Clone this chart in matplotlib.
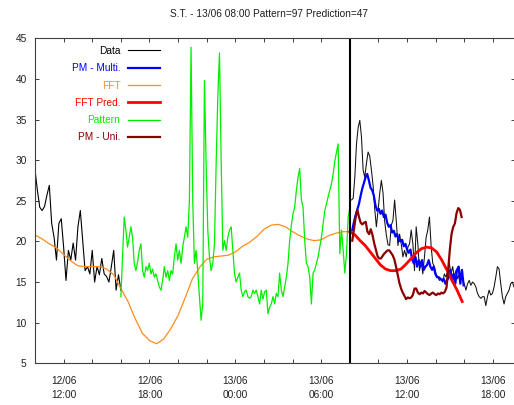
import numpy as np
import matplotlib
matplotlib.use("Agg")
import matplotlib.pyplot as plt

title = "S.T. - 13/06 08:00 Pattern=97 Prediction=47"

# hours counted from 12/06 00:00
data_left = [28.8, 26.3, 24.2, 23.8, 24.3, 25.7, 26.9, 22.2, 20.5, 17.7,
             22.2, 22.8, 19.3, 15.2, 18.9, 17.7, 19.8, 17.7, 21.8, 23.8,
             20.1, 16.4, 16.9, 16.0, 18.9, 15.0, 16.9, 15.9, 17.9, 16.0,
             15.7, 15.0, 16.9, 18.9, 14.0, 15.9, 14.0]
data_left_span = (10.0, 16.0)

data_right = [25.1, 25.1, 25.3, 27.9, 32.0, 34.0, 34.9, 32.9, 28.8, 27.9,
              29.6, 31.0, 30.5, 28.8, 26.9, 24.0, 21.8, 23.8, 25.9, 27.5,
              26.0, 22.5, 20.8, 19.6, 19.5, 22.0, 22.6, 25.1, 22.5, 19.5,
              20.9, 19.7, 18.1, 18.9, 18.1, 19.3, 19.7, 21.4, 19.7, 16.4,
              21.8, 19.7, 16.4, 17.6, 16.0, 18.1, 20.5, 21.4, 23.0, 19.5,
              17.3, 16.9, 16.0, 15.6, 15.2, 15.4, 15.0, 16.0, 15.6, 16.4,
              17.3, 16.0, 16.9, 15.6, 16.4, 15.4, 16.0, 15.6, 15.2, 14.8,
              14.0, 14.8, 15.2, 14.6, 15.0, 14.8, 14.4, 13.6, 13.2, 13.0,
              13.2, 13.2, 12.1, 13.2, 14.0, 13.4, 13.6, 14.4, 15.6, 16.9,
              16.6, 14.8, 13.2, 12.3, 13.2, 13.6, 14.0, 14.8, 15.0, 14.4]
data_right_span = (32.0, 43.47)

fft = [20.8, 20.3, 19.7, 19.2, 18.4, 17.6, 17.0, 16.9, 16.9, 16.9,
       16.6, 15.9, 14.2, 12.6, 10.5, 8.7, 7.8, 7.4, 8.0, 9.3,
       10.9, 13.1, 15.4, 16.8, 17.8, 18.1, 18.2, 18.3, 18.7, 19.4,
       19.9, 20.6, 21.5, 22.0, 22.1, 21.8, 21.2, 20.7, 20.3, 20.1,
       20.2, 20.7, 21.0, 21.2, 21.2]
fft_span = (10.0, 32.0)

pattern = [13.2, 18.1, 23.0, 21.4, 19.3, 20.5, 21.8, 20.5, 17.3, 16.4,
           17.5, 18.9, 19.7, 16.4, 15.6, 16.9, 16.4, 17.3, 16.0, 16.6,
           15.6, 16.0, 15.2, 14.4, 14.0, 15.2, 16.9, 15.6, 16.4, 15.2,
           16.4, 16.0, 18.1, 19.7, 17.7, 18.9, 17.3, 19.3, 20.5, 21.8,
           20.5, 25.0, 43.9, 25.0, 17.3, 18.9, 16.4, 13.2, 10.3, 12.3,
           39.8, 29.6, 21.4, 18.1, 16.4, 17.3, 19.7, 29.6, 37.8, 43.2,
           30.0, 18.9, 20.1, 18.9, 20.5, 21.4, 21.8, 18.9, 16.0,
           15.0, 15.6, 16.1, 14.0, 13.2, 13.8, 14.0, 13.2, 13.0, 13.2,
           14.0, 13.6, 14.0, 13.2, 12.3, 14.0, 12.9, 13.8, 14.0, 11.1,
           11.9, 12.3, 13.2, 12.3, 13.6, 13.2, 16.1, 14.0, 13.2, 14.4,
           15.6, 17.3, 20.1, 22.0, 23.4, 24.2, 26.3, 27.9, 29.0, 25.1,
           24.2, 20.1, 17.3, 16.9, 15.6, 12.3, 16.1, 16.5, 17.3, 18.1,
           19.3, 20.5, 22.1, 23.8, 24.6, 25.5, 26.3, 27.1, 28.3, 29.9,
           31.0, 32.0, 18.5, 21.4, 18.9, 16.1, 18.5, 23.0, 24.2]
pattern_span = (16.0, 32.0)

pm_multi = [21.4, 22.4, 23.2, 23.9, 24.6, 25.6, 26.5, 27.2, 27.9, 28.3,
            27.5, 26.6, 26.3, 25.6, 24.4, 23.8, 24.0, 23.4, 23.8, 23.0,
            23.3, 22.3, 21.8, 22.0, 21.1, 21.3, 20.6, 20.9, 20.2, 20.0,
            20.2, 19.4, 19.7, 19.0, 18.6, 19.0, 17.8, 17.3, 18.1, 16.9,
            17.7, 16.9, 17.7, 16.5, 16.9, 17.1, 17.7, 16.9, 16.5, 16.9,
            16.0, 15.6, 15.6, 15.4, 15.2, 15.4, 14.8, 15.2, 15.6, 16.5,
            15.2, 16.0, 14.8, 16.5, 16.9, 14.8, 16.5, 14.6]
pm_multi_span = (32.17, 39.95)

fft_pred = [21.2, 20.8, 20.1, 19.5, 18.7, 17.9, 17.1, 16.6, 16.4, 16.4,
            16.6, 17.2, 17.9, 18.6, 19.1, 19.3, 19.2, 18.7, 17.7, 16.5,
            15.2, 14.0, 12.6]
fft_pred_span = (32.0, 39.85)

pm_uni = [20.1, 21.5, 23.0, 23.9, 23.0, 22.3, 22.1, 22.3, 22.4, 21.2,
          20.9, 21.5, 20.8, 19.8, 19.0, 18.2, 17.9, 17.9, 18.2, 18.5,
          18.7, 18.9, 18.9, 18.6, 18.3, 17.8, 16.9, 15.9, 14.9, 14.2,
          13.7, 13.3, 12.9, 13.1, 13.0, 13.1, 13.4, 14.2, 14.2, 13.7,
          13.5, 13.7, 13.6, 13.9, 13.7, 13.5, 13.4, 13.6, 13.7, 13.5,
          13.4, 13.6, 13.5, 13.7, 13.6, 13.8, 14.3, 16.5, 19.0, 20.9,
          21.8, 22.2, 23.5, 24.1, 23.9, 23.0]
pm_uni_span = (32.17, 39.81)

split_time = 32.0
x_ticks = list(range(10, 44, 2))
x_label_ticks = [12, 18, 24, 30, 36, 42]
x_labels = ["12/06\n12:00", "12/06\n18:00", "13/06\n00:00",
            "13/06\n06:00", "13/06\n12:00", "13/06\n18:00"]
y_ticks = [5, 10, 15, 20, 25, 30, 35, 40, 45]


def times(span, vals):
    return np.linspace(span[0], span[1], len(vals))


plt.rcParams['font.family'] = ['Liberation Sans', 'DejaVu Sans']
FS = 7.3

fig = plt.figure(figsize=(5.14, 4.05), dpi=100)
ax = fig.add_axes([35 / 514, 1 - 363.3 / 405, 480 / 514, 325 / 405])

l_data, = ax.plot(times(data_left_span, data_left), data_left, color='black', lw=0.8, label='Data')
ax.plot(times(data_right_span, data_right), data_right, color='#111111', lw=0.75)
l_pm, = ax.plot(times(pm_multi_span, pm_multi), pm_multi, color='#0000ff', lw=1.6, label='PM - Multi.')
l_fft, = ax.plot(times(fft_span, fft), fft, color='#ff8c1a', lw=0.9, label='FFT')
l_pred, = ax.plot(times(fft_pred_span, fft_pred), fft_pred, color='#ff0000', lw=2.0, label='FFT Pred.')
l_pat, = ax.plot(times(pattern_span, pattern), pattern, color='#00ee00', lw=0.9, label='Pattern')
l_uni, = ax.plot(times(pm_uni_span, pm_uni), pm_uni, color='#8b0000', lw=1.6, label='PM - Uni.')
ax.axvline(split_time, color='black', lw=1.5)

ax.set_xlim(10, 43.54)
ax.set_ylim(5, 45)
ax.set_xticks(x_ticks)
ax.set_xticklabels([x_labels[x_label_ticks.index(t)] if t in x_label_ticks else "" for t in x_ticks],
                   linespacing=1.5)
ax.set_yticks(y_ticks)
ax.tick_params(direction='in', top=True, right=True, length=3, width=0.6,
               labelsize=FS, colors='#202020')
ax.tick_params(axis='x', pad=9)
ax.tick_params(axis='y', pad=6)
for s in ax.spines.values():
    s.set_color('#404040')
    s.set_linewidth(0.8)

ax.legend(handles=[l_data, l_pm, l_fft, l_pred, l_pat, l_uni],
          loc='upper right', bbox_to_anchor=(160 / 514, 1 - 46 / 405),
          bbox_transform=fig.transFigure, frameon=False, markerfirst=False,
          handlelength=3.2, handletextpad=0.7, labelspacing=0.72,
          borderpad=0, borderaxespad=0, fontsize=FS, labelcolor='linecolor')

fig.text(269 / 514, 1 - 14 / 405, title, ha='center', va='center', fontsize=FS, color='#202020')

fig.savefig("out.png", dpi=100)
